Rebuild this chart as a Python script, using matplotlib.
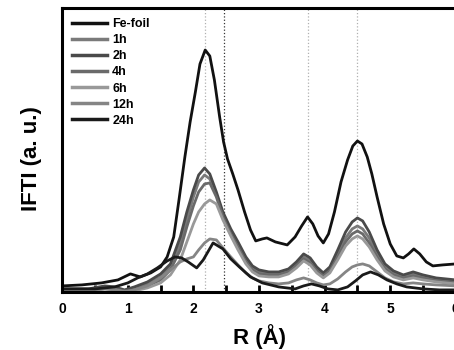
import numpy as np
import matplotlib
matplotlib.use('Agg')
import matplotlib.pyplot as plt

plt.rcParams['font.family'] = ['Liberation Sans', 'DejaVu Sans']
plt.rcParams['font.weight'] = 'bold'

# Fe-foil reference
r_fe = [0, 0.3, 0.6, 0.85, 1.04, 1.19, 1.35, 1.5, 1.6, 1.7, 1.78, 1.87, 1.95, 2.03, 2.1,
        2.18, 2.25, 2.32, 2.4, 2.46, 2.52, 2.6, 2.68, 2.78, 2.87, 2.95, 3.05, 3.12, 3.25,
        3.43, 3.55, 3.65, 3.74, 3.82, 3.9, 3.98, 4.06, 4.15, 4.25, 4.35, 4.43, 4.5, 4.57,
        4.65, 4.72, 4.8, 4.9, 5.0, 5.1, 5.2, 5.28, 5.36, 5.45, 5.55, 5.65, 5.8, 6.0]
fe = [6, 7, 9, 12, 18, 15, 19, 25, 35, 55, 92, 135, 170, 200, 228,
      242, 236, 212, 175, 150, 133, 118, 102, 80, 62, 51, 53, 54, 50,
      47, 55, 66, 75, 68, 56, 49, 58, 80, 110, 132, 146, 151, 148,
      135, 118, 95, 68, 48, 36, 34, 38, 43, 38, 30, 26, 27, 28]

# milled samples
r_s = [0, 0.4, 0.65, 0.8, 0.95, 1.1, 1.3, 1.5, 1.65, 1.8, 1.9, 2.0, 2.08, 2.17, 2.25,
       2.35, 2.45, 2.57, 2.68, 2.8, 2.9, 3.0, 3.15, 3.3, 3.45, 3.57, 3.68, 3.78, 3.88,
       3.98, 4.08, 4.2, 4.32, 4.42, 4.5, 4.58, 4.68, 4.8, 4.92, 5.05, 5.2, 5.35, 5.5,
       5.7, 6.0]
h1 = [2, 2, 5, 4, 1, 3, 8, 15, 25, 48, 72, 95, 110, 117, 113,
      97, 77, 60, 47, 32, 24, 20, 18, 18, 21, 28, 35, 31, 23,
      17, 23, 38, 54, 63, 66, 63, 54, 38, 25, 19, 15, 18, 15, 12, 10]
h2 = [3, 3, 6, 5, 2, 5, 10, 18, 28, 55, 80, 102, 117, 124, 118,
      100, 80, 63, 50, 35, 26, 22, 20, 20, 23, 30, 38, 34, 25,
      19, 25, 42, 60, 70, 74, 71, 60, 42, 28, 21, 17, 20, 17, 14, 12]
h4 = [2, 2, 4, 3, 1, 2, 6, 12, 22, 42, 65, 86, 100, 108, 109,
      95, 75, 58, 45, 30, 22, 18, 17, 17, 20, 26, 33, 29, 21,
      16, 21, 35, 50, 58, 61, 58, 49, 35, 23, 17, 14, 16, 14, 11, 9]
h6 = [1, 1, 3, 2, 0, 1, 4, 9, 17, 32, 50, 68, 80, 88, 92,
      88, 72, 56, 42, 28, 20, 16, 15, 15, 18, 24, 31, 27, 19,
      14, 19, 32, 46, 53, 56, 53, 45, 32, 21, 15, 12, 14, 12, 10, 8]
h12 = [1, 1, 3, 2, 0, 2, 6, 14, 22, 30, 33, 35, 42, 49, 53,
       52, 44, 35, 27, 19, 14, 11, 9, 8, 9, 12, 14, 12, 9,
       7, 8, 13, 20, 25, 27, 28, 26, 20, 14, 10, 8, 9, 8, 7, 6]

r_24 = [0, 0.5, 0.8, 1.0, 1.15, 1.3, 1.45, 1.6, 1.72, 1.82, 1.92, 2.05, 2.15, 2.3, 2.45,
        2.57, 2.7, 2.87, 3.05, 3.3, 3.55, 3.68, 3.8, 3.92, 4.05, 4.2, 4.35, 4.47, 4.58,
        4.7, 4.82, 4.95, 5.1, 5.25, 5.5, 5.75, 6.0]
h24 = [3, 3, 5, 9, 14, 18, 24, 31, 35, 34, 30, 24, 32, 49, 43,
       33, 25, 15, 9, 5, 3, 6, 8, 6, 3, 2, 5, 11, 17,
       20, 17, 12, 8, 5, 3, 2, 2]

gray_lines = [2.18, 3.74, 4.50]
black_line = 2.46

fig = plt.figure(figsize=(4.54, 3.5), dpi=100)
ax = fig.add_axes([0.137, 0.166, 0.867, 0.811])

for xv in gray_lines:
    ax.axvline(xv, color='#b0b0b0', lw=0.9, ls=':', zorder=1)
ax.axvline(black_line, color='#333333', lw=0.9, ls=':', zorder=1)

lw = 2.0
ax.plot(r_fe, fe, color='#111111', lw=lw, label='Fe-foil', solid_joinstyle='round')
ax.plot(r_s, h1, color='#7a7a7a', lw=lw, label='1h', solid_joinstyle='round')
ax.plot(r_s, h2, color='#4a4a4a', lw=lw, label='2h', solid_joinstyle='round')
ax.plot(r_s, h4, color='#6a6a6a', lw=lw, label='4h', solid_joinstyle='round')
ax.plot(r_s, h6, color='#999999', lw=lw, label='6h', solid_joinstyle='round')
ax.plot(r_s, h12, color='#858585', lw=lw, label='12h', solid_joinstyle='round')
ax.plot(r_24, h24, color='#1a1a1a', lw=lw, label='24h', solid_joinstyle='round')

ax.set_xlim(0, 6)
ax.set_ylim(0, 284)
ax.set_xticks([0, 1, 2, 3, 4, 5, 6])
ax.set_xticks(np.arange(0.5, 6, 1.0), minor=True)
ax.set_yticks([])
ax.tick_params(axis='x', which='both', direction='in', length=5, width=2, labelsize=10, pad=7)
for lab in ax.get_xticklabels():
    lab.set_fontweight('bold')
for s in ax.spines.values():
    s.set_linewidth(2.2)

ax.set_xlabel('R (Å)', fontsize=16, fontweight='bold', labelpad=6)
ax.set_ylabel('IFTI (a. u.)', fontsize=16, fontweight='bold')
ax.yaxis.set_label_coords(-0.052, 0.468)

leg = ax.legend(loc='upper left', frameon=False, handlelength=2.8,
                handletextpad=0.4, labelspacing=0.33, borderaxespad=0.4,
                prop={'weight': 'bold', 'size': 9})
for line in leg.get_lines():
    line.set_linewidth(2.5)

fig.savefig('out.png', dpi=100)
